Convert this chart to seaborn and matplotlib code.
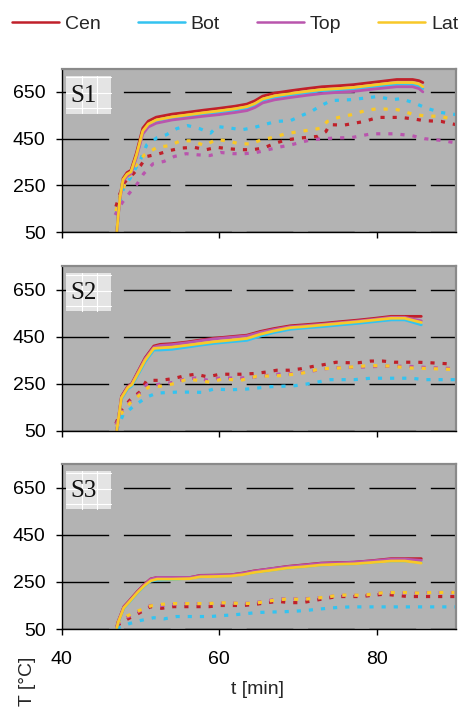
import numpy as np
import pandas as pd
import matplotlib
matplotlib.use("Agg")
import matplotlib.pyplot as plt
import seaborn as sns
from matplotlib.lines import Line2D
from matplotlib.patches import Rectangle

sns.set_theme(style="white")
plt.rcParams['font.family'] = ['Liberation Sans', 'DejaVu Sans']

# ---------------- data ----------------
series_names = ["Cen", "Bot", "Top", "Lat"]
series_colors = {"Cen": "#c0202a", "Bot": "#33c3f0", "Top": "#b955ad", "Lat": "#f8c828"}
panel_labels = ["S1", "S2", "S3"]
x_ticks = [40, 60, 80]
y_ticks = [50, 250, 450, 650]

# Panel S1 - solid
s1_t_solid = [47, 47.4, 47.8, 48.3, 48.8, 49.5, 50.3, 51, 52, 54, 56, 58, 60, 62, 63.5, 64.5,
              65.5, 67, 69, 71, 73, 75, 77, 79, 81, 82.5, 84.5, 85.3, 85.8]
s1_cen = [50, 200, 280, 305, 315, 390, 495, 525, 542, 555, 563, 572, 580, 589, 598, 612,
          632, 645, 655, 664, 672, 676, 681, 689, 697, 703, 703, 698, 690]
s1_lat = [50, 195, 275, 298, 308, 380, 483, 513, 530, 543, 552, 561, 569, 578, 587, 600,
          620, 633, 643, 652, 660, 664, 669, 677, 685, 690, 690, 684, 672]
s1_bot = [50, 195, 272, 295, 304, 375, 478, 507, 524, 537, 546, 555, 563, 572, 580, 594,
          614, 627, 637, 646, 654, 658, 663, 671, 678, 683, 683, 676, 664]
s1_top = [50, 190, 268, 290, 300, 370, 470, 500, 516, 530, 538, 546, 553, 562, 570, 583,
          603, 616, 626, 635, 643, 648, 652, 660, 667, 672, 672, 664, 650]

# Panel S1 - dotted
s1_cen_d_t = [46.9, 47.3, 47.9, 49.1, 50, 50.8, 52.3, 53.8, 55.2, 56.8, 58.3, 59.7, 61.2, 62.7,
              64.2, 65.6, 67.1, 68.5, 70.3, 72.5, 73.5, 74, 75.8, 78.4, 80.1, 83, 84.7, 86, 88.1, 90]
s1_cen_d = [160, 205, 260, 300, 334, 374, 385, 400, 410, 413, 403, 413, 407, 403,
            403, 410, 431, 445, 453, 460, 480, 510, 508, 524, 541, 541, 534, 527, 524, 510]
s1_bot_d_t = [46.9, 47.4, 47.9, 48.7, 50, 50.8, 52.1, 53.3, 54.6, 56, 57.5, 58.9, 59.7, 61.3,
              62.8, 64.2, 65.7, 67.2, 69, 70.5, 71.7, 72.8, 74.2, 76.8, 80, 82, 83, 84.7, 86.2, 88.1, 90]
s1_bot_d = [128, 181, 243, 281, 360, 424, 454, 467, 493, 506, 493, 474, 502, 496,
            488, 496, 510, 524, 527, 550, 567, 590, 613, 617, 630, 617, 621, 603, 581, 562, 553]
s1_top_d_t = [46.8, 47.7, 48.6, 49.6, 50.4, 51.6, 53, 54.3, 55.8, 57.3, 58.8, 60.2, 61.8, 63.2,
              64.7, 66.2, 67.6, 69.1, 71.7, 74.6, 76.8, 79.3, 82.2, 84.4, 86, 88.1, 90]
s1_top_d = [124, 177, 217, 257, 300, 343, 353, 374, 386, 381, 378, 391, 386, 386,
            391, 403, 414, 424, 446, 453, 455, 471, 471, 463, 450, 443, 432]
s1_lat_d_t = [46.9, 47.5, 48.3, 49.3, 50.5, 52.1, 53.6, 55.1, 56.6, 58.1, 59.6, 61.1, 62.5, 64,
              65.4, 66.9, 68.4, 70, 71.7, 72.9, 73.7, 75, 76.8, 78.5, 80, 82.6, 84.7, 86, 88, 90]
s1_lat_d = [140, 215, 275, 330, 381, 413, 420, 441, 441, 421, 446, 441, 428, 428,
            446, 456, 471, 480, 488, 495, 524, 540, 553, 570, 578, 574, 553, 548, 545, 531]

# Panel S2 - solid
s2_t_solid = [47, 47.6, 48.4, 48.9, 49.6, 50.6, 51.7, 52.5, 54, 55.9, 57.5, 59.3, 61.5, 63.5,
              65.2, 66.9, 69, 71, 73.3, 75.5, 77.5, 79.5, 81.8, 83.5, 85.6]
s2_cen = [50, 196, 239, 250, 296, 360, 410, 417, 420, 427, 435, 443, 450, 456,
          472, 484, 496, 501, 507, 514, 520, 527, 536, 536, 536]
s2_lat = [50, 190, 233, 245, 288, 350, 400, 402, 405, 413, 420, 428, 435, 442,
          460, 474, 488, 493, 500, 507, 513, 520, 528, 528, 510]
s2_bot = [50, 185, 228, 240, 282, 343, 393, 393, 396, 405, 413, 421, 428, 434,
          452, 467, 481, 487, 493, 500, 506, 513, 521, 521, 500]
s2_top = [50, 193, 236, 248, 293, 356, 405, 412, 416, 424, 432, 440, 447, 453,
          468, 480, 492, 497, 503, 510, 516, 523, 532, 532, 517]

# Panel S2 - dotted
s2_cen_d_t = [46.9, 47.6, 48.7, 50, 50.8, 52.5, 54.1, 55.7, 57, 58.5, 60.1, 62.7, 64.4, 65.9,
              67.3, 68.8, 70.3, 72, 73.3, 74.8, 76.2, 77.7, 79.2, 80.7, 82.2, 83.9, 85.1, 86.6, 88.1, 89.8]
s2_cen_d = [81, 139, 181, 217, 264, 264, 271, 284, 290, 279, 290, 290, 293, 299,
            307, 307, 313, 324, 331, 341, 339, 339, 346, 346, 341, 341, 341, 339, 336, 333]
s2_top_d_t = [46.9, 47.6, 48.7, 50, 50.8, 52.1, 54.1, 55.7, 57, 58.5, 60.1, 62.7, 64.4, 65.9,
              67.3, 68.8, 70.3, 72, 73.3, 74.8, 77.7, 80.7, 83.9, 86.6, 89.8]
s2_top_d = [75, 130, 172, 210, 245, 246, 255, 270, 274, 265, 274, 274, 278, 284,
            290, 291, 296, 305, 313, 318, 320, 324, 324, 318, 314]
s2_lat_d_t = [47, 47.6, 48.7, 50, 51, 52.5, 54.3, 56, 57.6, 58.9, 60.4, 62.7, 64.7, 67.7,
              70.3, 72.8, 75.4, 79.1, 81.5, 83.9, 86.6, 89.8]
s2_lat_d = [70, 125, 168, 205, 235, 239, 250, 270, 262, 256, 270, 264, 281, 284,
            293, 313, 317, 327, 325, 317, 314, 310]
s2_bot_d_t = [47, 47.8, 49.1, 50.8, 52.1, 54.6, 56.3, 57.8, 59.3, 61.4, 63.5, 66.5, 69.5, 71.2,
              74.1, 77.1, 79.2, 81.8, 84.3, 86, 90]
s2_bot_d = [53, 117, 153, 193, 210, 214, 214, 213, 227, 224, 227, 237, 241, 249,
            267, 267, 273, 273, 273, 267, 267]

# Panel S3 - solid
s3_t_solid = [47, 47.2, 47.9, 48.5, 49.6, 50.5, 51.3, 52.1, 54, 56.3, 57.6, 59.5, 61.4, 63,
              64.4, 66.5, 68.6, 70.8, 72.9, 75, 77.1, 79.5, 81.8, 83.5, 85.6]
s3_cen = [60, 84, 145, 167, 209, 240, 263, 269, 269, 269, 278, 279, 280, 288,
          297, 306, 316, 323, 330, 332, 334, 341, 349, 349, 349]
s3_top = [58, 82, 143, 165, 207, 238, 262, 269, 269, 269, 277, 278, 280, 287,
          296, 306, 315, 322, 329, 331, 334, 340, 347, 347, 342]
s3_lat = [55, 80, 140, 162, 204, 234, 255, 262, 262, 264, 272, 273, 275, 281,
          290, 299, 309, 315, 322, 325, 327, 333, 339, 339, 330]
s3_bot = [53, 78, 138, 160, 202, 232, 253, 258, 260, 266, 272, 274, 276, 282,
          290, 299, 309, 315, 322, 325, 327, 333, 339, 339, 332]

# Panel S3 - dotted
s3_d_t = [47, 48.3, 49.8, 51.3, 52.7, 54.2, 55.7, 57.2, 58.7, 60.1, 61.6, 63.1, 64.6, 66.1,
          67.5, 69, 70.5, 72, 73.5, 75, 76.5, 77.9, 79.4, 80.9, 82.4, 83.9, 85.4, 86.9, 88.4, 89.8]
s3_cen_d = [64, 91, 117, 145, 138, 145, 145, 145, 145, 150, 150, 150, 155, 162,
            167, 162, 162, 171, 180, 188, 188, 188, 193, 198, 193, 188, 188, 188, 188, 188]
s3_top_d = [70, 100, 125, 150, 150, 155, 158, 158, 158, 160, 160, 158, 162, 170,
            178, 178, 178, 181, 185, 193, 193, 193, 198, 205, 205, 202, 202, 205, 205, 205]
s3_lat_d = [75, 105, 128, 148, 155, 158, 158, 158, 158, 162, 160, 158, 160, 168,
            175, 178, 175, 181, 185, 193, 195, 193, 198, 205, 205, 205, 202, 205, 205, 205]
s3_bot_d_t = [47, 48.7, 50, 51.7, 53, 54.6, 56.6, 58.9, 60.3, 61.8, 63.3, 64.8, 66.3, 67.8,
              69.3, 70.7, 72.2, 73.7, 75.2, 76.7, 79.6, 83.9, 87, 90.2]
s3_bot_d = [53, 74, 86, 98, 93, 103, 103, 103, 107, 110, 115, 120, 122, 123,
            125, 128, 133, 138, 142, 144, 144, 144, 144, 144]

panels = [
    {"solid": {"Cen": (s1_t_solid, s1_cen), "Bot": (s1_t_solid, s1_bot),
               "Top": (s1_t_solid, s1_top), "Lat": (s1_t_solid, s1_lat)},
     "dot": {"Cen": (s1_cen_d_t, s1_cen_d), "Bot": (s1_bot_d_t, s1_bot_d),
             "Top": (s1_top_d_t, s1_top_d), "Lat": (s1_lat_d_t, s1_lat_d)}},
    {"solid": {"Cen": (s2_t_solid, s2_cen), "Bot": (s2_t_solid, s2_bot),
               "Top": (s2_t_solid, s2_top), "Lat": (s2_t_solid, s2_lat)},
     "dot": {"Cen": (s2_cen_d_t, s2_cen_d), "Bot": (s2_bot_d_t, s2_bot_d),
             "Top": (s2_top_d_t, s2_top_d), "Lat": (s2_lat_d_t, s2_lat_d)}},
    {"solid": {"Cen": (s3_t_solid, s3_cen), "Bot": (s3_t_solid, s3_bot),
               "Top": (s3_t_solid, s3_top), "Lat": (s3_t_solid, s3_lat)},
     "dot": {"Cen": (s3_d_t, s3_cen_d), "Bot": (s3_bot_d_t, s3_bot_d),
             "Top": (s3_d_t, s3_top_d), "Lat": (s3_d_t, s3_lat_d)}},
]

# ---------------- figure ----------------
W, H = 473, 707
fig = plt.figure(figsize=(W / 100, H / 100), dpi=100)
fig.patch.set_facecolor("white")

def fx(px):
    return px / W

def fy(px):
    return 1 - px / H

ax_left, ax_right = 61.5, 456
panel_px = [(68.5, 232.3), (266, 430.7), (464.3, 629)]

bg = "#b3b3b3"
for i, (top, bottom) in enumerate(panel_px):
    ax = fig.add_axes([fx(ax_left), fy(bottom), fx(ax_right - ax_left), (bottom - top) / H])
    ax.set_facecolor(bg)
    ax.set_xlim(40, 90)
    ax.set_ylim(50, 750)
    ax.set_xticks(x_ticks)
    ax.set_yticks(y_ticks)
    ax.yaxis.grid(True, color="black", linewidth=1.0, linestyle=(0, (33.6, 10.6)))
    ax.xaxis.grid(False)
    ax.set_axisbelow(True)

    d = panels[i]
    for name in series_names:
        t, v = d["dot"][name]
        sns.lineplot(x=t, y=v, ax=ax, color=series_colors[name], linewidth=2.3,
                     linestyle=(0, (1.3, 2.5)), estimator=None, sort=False)
    for name in series_names:
        t, v = d["solid"][name]
        sns.lineplot(x=t, y=v, ax=ax, color=series_colors[name], linewidth=2.0,
                     estimator=None, sort=False)

    for s in ["left", "bottom"]:
        ax.spines[s].set_color("black")
        ax.spines[s].set_linewidth(1.0)
    for s in ["top", "right"]:
        ax.spines[s].set_color("#8a8a8a")
        ax.spines[s].set_linewidth(1.6)

    ax.tick_params(axis="both", which="major", direction="out", length=4.5, width=1.0,
                   color="black", labelsize=14, labelcolor="black",
                   bottom=True, left=True)
    ax.tick_params(axis="y", pad=7)
    ax.tick_params(axis="x", pad=11)
    ax.set_xlabel("")
    ax.set_ylabel("")
    if i < 2:
        ax.tick_params(labelbottom=False)

    # panel label box
    ah = bottom - top
    aw = ax_right - ax_left
    bx0 = (66 - ax_left) / aw
    bw = 44.5 / aw
    btop = 1 - 7 / ah
    bh = 38 / ah
    ax.add_patch(Rectangle((bx0, btop - bh), bw, bh, transform=ax.transAxes,
                           facecolor="#e4e4e4", edgecolor="none", zorder=5))
    for vx in [81.5, 97.3]:
        xx = (vx - ax_left) / aw
        ax.plot([xx, xx], [btop - bh, btop], transform=ax.transAxes, color="white",
                lw=0.8, zorder=5.5)
    for hy in [2, 18, 32.5]:
        yy = btop - hy / ah
        ax.plot([bx0, bx0 + bw], [yy, yy], transform=ax.transAxes, color="white",
                lw=0.8, zorder=5.5)
    ax.text(bx0 + 4.5 / aw, btop - bh / 2 - 1 / ah, panel_labels[i], transform=ax.transAxes,
            ha="left", va="center", fontsize=18, family=["Liberation Serif", "DejaVu Serif"],
            color="#111111", zorder=6)

# legend
handles = [Line2D([0], [0], color=series_colors[n], lw=1.8) for n in series_names]
fig.legend(handles, series_names, loc="center left", bbox_to_anchor=(fx(12), fy(24.5)),
           ncol=4, frameon=False, fontsize=14, handlelength=2.42, handletextpad=0.3,
           columnspacing=1.9, borderpad=0, borderaxespad=0)

fig.text(fx(257.5), fy(690), "t [min]", ha="center", va="center", fontsize=14)
fig.text(fx(27), fy(681), "T [°C]", ha="center", va="center", rotation=90, fontsize=14)

fig.savefig("out.png", dpi=100)
